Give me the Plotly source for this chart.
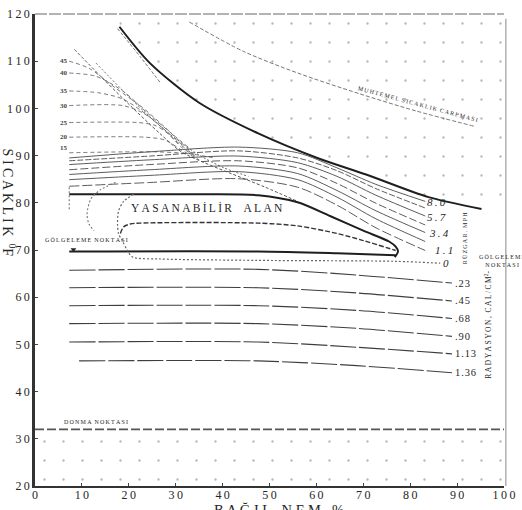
import plotly.graph_objects as go

FONT = "Liberation Serif"
INK = "#262626"


def sp(s, sep="\u2009"):
    return sep.join(list(s))


def hsp(s):
    return sp(s, "\u200a")


# ---------------- axes ----------------
x_ticks = [0, 10, 20, 30, 40, 50, 60, 70, 80, 90, 100]
y_ticks = [20, 30, 40, 50, 60, 70, 80, 90, 100, 110, 120]

# ---------------- heat zone (heavy upper limit line) ----------------
upper_rh = [18.0, 24.5, 35.0, 47.6, 60.2, 70.6, 83.9, 95.2, 100.0]
upper_t = [117.3, 109.6, 101.2, 94.7, 89.5, 86.0, 81.2, 78.7, 77.9]
upper_short_rh = [17.6, 22.4, 26.6]
upper_short_t = [116.9, 111.0, 105.6]

# possible sunstroke line
sun_rh = [32.9, 44.4, 56.0, 69.2, 81.1, 93.7]
sun_t = [118.3, 112.1, 107.5, 103.1, 99.5, 96.2]

# freezing point
freeze_t = 32
freeze_rh = [0, 100]
frost_floor_t = 20

# ---------------- evaporation fan (left) ----------------
fan_labels = ["45", "40", "35", "30", "25", "20", "15"]
fan_label_t = [110.0, 107.5, 103.7, 100.6, 97.0, 93.9, 91.6]
fan_rh = [
    [7.3, 11.5, 17.2, 22.9, 27.7, 31.2, 34.0],
    [7.3, 13.0, 18.7, 24.1, 29.1, 32.9],
    [7.3, 13.6, 18.7, 23.5, 27.7, 31.9],
    [7.3, 18.7, 22.9, 26.2, 29.8, 33.3],
    [7.3, 22.0, 25.6, 28.3, 31.2, 34.4],
    [7.3, 23.5, 27.7, 31.2, 35.0],
    [7.3, 25.6, 32.9, 38.2],
]
fan_t = [
    [110.0, 108.5, 104.3, 100.2, 96.0, 92.7, 90.1],
    [107.5, 106.8, 103.7, 98.9, 94.7, 91.6],
    [103.7, 103.3, 102.0, 98.9, 95.4, 91.8],
    [100.6, 100.6, 99.1, 96.8, 93.3, 90.6],
    [97.0, 97.0, 96.4, 94.7, 91.8, 89.7],
    [93.9, 93.9, 93.3, 91.2, 89.1],
    [90.6, 90.8, 90.4, 89.5],
]
diag_a_rh = [8.4, 14.0, 20.3, 26.6, 31.2, 36.1, 41.3, 49.1, 56.0]
diag_a_t = [112.5, 106.8, 100.6, 94.7, 90.8, 88.5, 86.4, 83.3, 80.3]
diag_b_rh = [13.0, 18.2, 23.5, 27.7, 31.9, 35.0, 40.3, 45.5]
diag_b_t = [109.6, 104.3, 99.1, 95.4, 92.2, 90.1, 87.4, 85.6]

# ---------------- wind lines ----------------
wind_rh = [7.3, 24.5, 43.4, 56.0, 64.4, 72.7, 83.2]
wind_t = [
    [89.5, 90.8, 91.8, 90.6, 87.4, 83.9, 80.3],
    [88.9, 89.9, 91.0, 89.5, 86.8, 83.0, 78.9],
    [88.1, 89.1, 89.9, 88.5, 85.6, 81.6, 77.2],
    [87.0, 88.1, 88.9, 87.4, 84.1, 79.9, 75.3],
    [86.0, 87.0, 87.8, 86.2, 82.6, 78.3, 73.7],
    [84.9, 85.8, 86.6, 84.9, 81.2, 76.6, 71.8],
    [83.5, 84.3, 85.1, 83.3, 79.5, 74.7, 69.9],
]
wind_labels = ["8.0", "5.7", "3.4", "1.1", "0"]
wind_label_rh = [85.5, 85.7, 86.2, 87.2, 87.6]
wind_label_t = [80.1, 77.0, 73.7, 69.9, 67.2]

# ---------------- comfort zone ----------------
comf_top_rh = [7.3, 35.0, 47.6, 56.0, 62.9, 70.0, 75.5, 76.9, 77.4, 76.7]
comf_top_t = [81.8, 81.8, 81.6, 80.1, 77.2, 74.1, 71.8, 70.7, 69.7, 68.5]
comf_low_rh = [7.3, 47.6, 64.4, 76.9]
comf_low_t = [69.7, 69.7, 69.3, 68.9]
comf_in_rh = [18.2, 18.9, 20.3, 22.4, 47.6, 56.0, 64.4, 70.0, 76.9]
comf_in_t = [73.5, 74.9, 75.5, 75.7, 75.7, 75.1, 73.5, 72.0, 69.9]
comf_out_rh = [21.0, 18.9, 17.8, 17.6, 17.8, 18.7, 19.7, 20.8, 26.6, 47.6, 76.9, 86.4]
comf_out_t = [81.8, 80.3, 78.2, 75.5, 73.5, 71.8, 69.9, 68.5, 68.1, 67.8, 67.6, 67.2]
left_dot_rh = [17.2, 14.0, 11.9, 11.1, 11.5, 12.6]
left_dot_t = [84.3, 82.8, 80.8, 77.6, 75.5, 74.1]
far_dot_rh = [7.3, 7.3]
far_dot_t = [83.3, 78.2]
shade_pt_rh = [8.2]
shade_pt_t = [70.1]

# ---------------- radiation lines ----------------
rad_labels = [".23", ".45", ".68", ".90", "1.13", "1.36"]
rad_rh = [
    [7.3, 47.6, 68.6, 88.9],
    [7.3, 47.6, 68.6, 88.9],
    [7.3, 47.6, 68.6, 88.9],
    [7.3, 47.6, 68.6, 88.9],
    [7.3, 47.6, 68.6, 88.9],
    [9.4, 47.6, 68.6, 88.9],
]
rad_t = [
    [65.7, 65.9, 64.7, 63.0],
    [62.0, 62.0, 60.9, 59.2],
    [58.2, 58.2, 57.2, 55.5],
    [54.4, 54.4, 53.4, 51.7],
    [50.5, 50.5, 49.4, 48.0],
    [46.5, 46.5, 45.5, 44.0],
]
rad_label_rh = 89.2

fig = go.Figure()


def line(x, y, width=1.0, color="#444", dash="solid", shape="spline"):
    fig.add_trace(go.Scatter(
        x=x, y=y, mode="lines", hoverinfo="skip", showlegend=False,
        line=dict(width=width, color=color, dash=dash, shape=shape, smoothing=0.8)))


stipple = dict(shape=".", fgcolor="#6f6f6f", bgcolor="rgba(0,0,0,0)", size=19, solidity=0.012)

# stipple areas
heat_x = upper_rh + [100, upper_rh[0]]
heat_y = upper_t + [120, 120]
fig.add_trace(go.Scatter(
    x=heat_x, y=heat_y, mode="lines", fill="toself", hoverinfo="skip", showlegend=False,
    line=dict(width=0, color="rgba(0,0,0,0)"), fillcolor="rgba(0,0,0,0)", fillpattern=stipple))
fig.add_trace(go.Scatter(
    x=[0, 100, 100, 0], y=[frost_floor_t, frost_floor_t, freeze_t, freeze_t], mode="lines",
    fill="toself", hoverinfo="skip", showlegend=False,
    line=dict(width=0, color="rgba(0,0,0,0)"), fillcolor="rgba(0,0,0,0)", fillpattern=stipple))

# heat lines
line(upper_rh[:-1], upper_t[:-1], 2.0, "#1e1e1e")
line(upper_short_rh, upper_short_t, 1.0, "#666", "3px,2px")
line(sun_rh, sun_t, 1.0, "#777", "4px,2px")

# fan
for xs, ys in zip(fan_rh, fan_t):
    line(xs, ys, 0.9, "#6a6a6a", "4px,3px")
line(diag_a_rh, diag_a_t, 1.0, "#555", "3px,2px")
line(diag_b_rh, diag_b_t, 1.0, "#666", "2px,2px")

# wind
wind_dash = ["solid", "6px,2px", "solid", "8px,3px", "solid", "solid", "10px,3px"]
for ys, d in zip(wind_t, wind_dash):
    line(wind_rh, ys, 0.9, "#4a4a4a", d)

# comfort zone
line(comf_top_rh, comf_top_t, 2.0, "#1e1e1e")
line(comf_low_rh, comf_low_t, 2.0, "#1e1e1e")
line(comf_in_rh, comf_in_t, 1.4, "#333", "5px,2px")
line(comf_out_rh, comf_out_t, 1.2, "#666", "2px,2px")
line(left_dot_rh, left_dot_t, 1.1, "#777", "2px,2px")
line(far_dot_rh, far_dot_t, 1.1, "#777", "2px,2px", "linear")
fig.add_trace(go.Scatter(x=shade_pt_rh, y=shade_pt_t, mode="markers", hoverinfo="skip",
                         showlegend=False,
                         marker=dict(symbol="triangle-down", size=5, color="#222")))

# radiation
for xs, ys in zip(rad_rh, rad_t):
    line(xs, ys, 1.1, "#3e3e3e", "26px,3px")

# freezing
line(freeze_rh, [freeze_t, freeze_t], 1.6, "#555", "9px,3px", "linear")

ann = []


def text(x, y, s, size=8, angle=0, xanchor="center", yanchor="middle", xref="x", yref="y",
         color=INK, style="normal", weight="normal"):
    ann.append(dict(x=x, y=y, xref=xref, yref=yref, text=s, showarrow=False, textangle=angle,
                    xanchor=xanchor, yanchor=yanchor,
                    font=dict(family=FONT, size=size, color=color, style=style, weight=weight)))


for lab, ty in zip(fan_labels, fan_label_t):
    text(6.1, ty, lab, 7, weight="bold", color="#444")
for lab, x, y in zip(wind_labels, wind_label_rh, wind_label_t):
    text(x, y, sp(lab), 11, style="italic")
for lab, ys in zip(rad_labels, rad_t):
    text(rad_label_rh, ys[-1], hsp(lab), 10.5, xanchor="left")

text(36.7, 78.9, sp("YASANABİLİR") + "\u2003" + sp("ALAN"), 11.5)
text(81.6, 101.0, sp("MUHTEMEL") + "\u2002" + sp("SICAKLIK") + "\u2002" + sp("CARPMASI"), 6, angle=15)
text(13.0, 33.6, sp("DONMA") + "\u2002" + sp("NOKTASI"), 6)
text(10.9, 72.2, sp("GÖLGELEME") + "\u2002" + sp("NOKTASI"), 6)
text(99.6, 67.6, sp("GÖLGELEME") + "<br>" + sp("NOKTASI"), 6)
text(91.6, 72.4, sp("RÜZGAR.") + "\u2002" + sp("MPH"), 6, angle=-90)
text(96.4, 54.2, sp("RADYASYON,") + "\u2002" + sp("CAL/CM") + "<sup>2</sup>-", 7.5, angle=-90)

text(-0.055, 0.6, "S I C A K L I K  <sup>0</sup>F", 14, angle=90, xref="paper", yref="paper")
text(0.52, -0.05, "B A Ğ I L   N E M   %", 14.5, xref="paper", yref="paper")

fig.update_layout(
    width=522, height=510,
    margin=dict(l=33, r=12, t=7, b=24),
    paper_bgcolor="white", plot_bgcolor="white",
    annotations=ann,
    shapes=[
        dict(type="line", xref="paper", yref="paper", x0=0, x1=1, y0=1, y1=1,
             line=dict(color="#666", width=1, dash="12px,2px")),
        dict(type="line", xref="paper", yref="paper", x0=1.004, x1=1.004, y0=0, y1=0.99,
             line=dict(color="#888", width=1)),
    ],
    xaxis=dict(range=[0, 100], tickvals=x_ticks, ticktext=[sp(str(v)) for v in x_ticks],
               showgrid=False, zeroline=False, showline=True, linewidth=1.6, linecolor="#333",
               ticks="inside", ticklen=3, tickcolor="#444", ticklabelstandoff=-3,
               tickfont=dict(family=FONT, size=12, color=INK)),
    yaxis=dict(range=[20, 120], tickvals=y_ticks, ticktext=[sp(str(v)) for v in y_ticks],
               showgrid=False, zeroline=False, showline=True, linewidth=2.6, linecolor="#333",
               ticks="inside", ticklen=3, tickcolor="#444",
               tickfont=dict(family=FONT, size=12, color=INK)),
)

fig.write_html("out.html")
